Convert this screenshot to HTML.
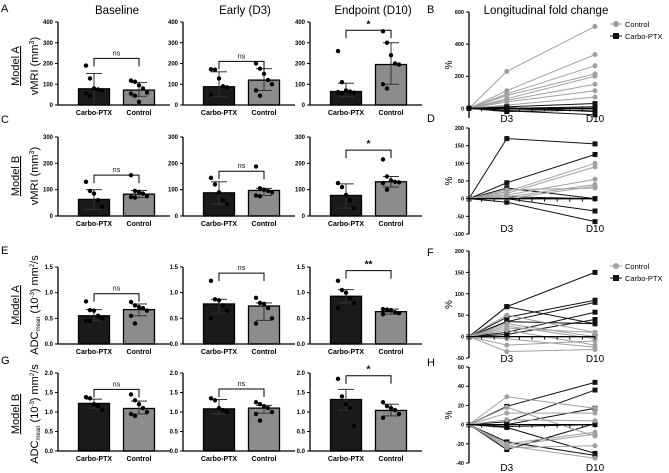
<!DOCTYPE html>
<html><head><meta charset="utf-8"><style>
html,body{margin:0;padding:0;background:#fff}
svg{display:block;font-family:"Liberation Sans",Arial,sans-serif}
</style></head><body>
<svg id="fig" width="669" height="473" viewBox="0 0 669 473" xmlns="http://www.w3.org/2000/svg">
<g font-size="11" fill="#000">
<text x="1" y="12">A</text>
<text x="1" y="123">C</text>
<text x="1" y="254">E</text>
<text x="1" y="364">G</text>
<text x="427" y="13">B</text>
<text x="427" y="122">D</text>
<text x="427" y="256">F</text>
<text x="427" y="366">H</text>
</g>
<g font-size="11.5" text-anchor="middle">
<text x="117" y="14">Baseline</text>
<text x="245" y="14">Early (D3)</text>
<text x="373" y="14">Endpoint (D10)</text>
<text x="546" y="14">Longitudinal fold change</text>
</g>
<g font-size="11" text-anchor="middle">
<text transform="translate(19,66) rotate(-90)" text-decoration="underline">Model A</text>
<text transform="translate(38,66) rotate(-90)">vMRI (mm<tspan font-size="7" dy="-4">3</tspan><tspan dy="4">)</tspan></text>
<text transform="translate(19,176) rotate(-90)" text-decoration="underline">Model B</text>
<text transform="translate(38,176) rotate(-90)">vMRI (mm<tspan font-size="7" dy="-4">3</tspan><tspan dy="4">)</tspan></text>
<text transform="translate(19,305) rotate(-90)" text-decoration="underline">Model A</text>
<text transform="translate(38,305) rotate(-90)">ADC<tspan font-size="6" dy="2">mean</tspan><tspan dy="-2"> (10</tspan><tspan font-size="6" dy="-4">-3</tspan><tspan dy="4">) mm</tspan><tspan font-size="6" dy="-4">2</tspan><tspan dy="4">/s</tspan></text>
<text transform="translate(19,414) rotate(-90)" text-decoration="underline">Model B</text>
<text transform="translate(38,414) rotate(-90)">ADC<tspan font-size="6" dy="2">mean</tspan><tspan dy="-2"> (10</tspan><tspan font-size="6" dy="-4">-3</tspan><tspan dy="4">) mm</tspan><tspan font-size="6" dy="-4">2</tspan><tspan dy="4">/s</tspan></text>
</g>
<g id="plots"></g>
</svg>
<script>
// ---- Bar chart data (per panel: mean, SD top, SD bottom, points) ----
const groups = ["Carbo-PTX", "Control"];
const barMeans = [[78,72],[88,120],[65,195],[63,83],[88,97],[78,130],[0.55,0.67],[0.78,0.74],[0.93,0.63],[1.22,1.09],[1.08,1.10],[1.32,1.04]];
const barUpper = [[152,108],[160,175],[105,300],[100,97],[130,105],[122,150],[0.67,0.78],[0.87,0.80],[1.06,0.68],[1.33,1.28],[1.32,1.17],[1.58,1.20]];
const barLower = [[0,42],[40,70],[40,100],[25,70],[45,78],[30,110],[0.45,0.55],[0.60,0.46],[0.80,0.58],[1.10,0.95],[0.95,0.97],[1.05,0.90]];
const ptsCarbo = [[190,128,80,75,70,55,45],[172,170,128,90,85,50],[260,110,70,65,60,62,58],[130,95,85,60,35],[145,120,90,60,45],[125,110,80,60,30],[0.83,0.66,0.65,0.55,0.5,0.45,0.45],[1.23,0.87,0.85,0.75,0.65,0.5],[1.23,1.05,1.0,0.9,0.8,0.7],[1.38,1.35,1.2,1.15,1.05],[1.35,1.3,1.1,1.05,1.0],[1.85,1.4,1.2,1.1,0.65]];
const ptsControl = [[118,112,95,80,60,55,45,15],[200,175,150,120,100,70,45],[355,300,240,200,195,100,80],[155,95,92,85,75,72,70],[188,105,100,95,90,78,75],[215,150,135,130,128,125,100],[0.82,0.75,0.72,0.7,0.65,0.55,0.4],[0.9,0.8,0.78,0.7,0.5,0.4],[0.68,0.67,0.66,0.62,0.6,0.58],[1.45,1.3,1.2,1.1,1.0,0.95,0.9],[1.25,1.2,1.15,1.1,1.0,0.95,0.78],[1.25,1.15,1.1,1.05,0.95,0.85]];
const sigLabels = ["ns","ns","*","ns","ns","*","ns","ns","**","ns","ns","*"];
const sigLevels = [225,210,360,155,170,250,0.98,1.38,1.43,1.58,1.59,1.93];
const barTicks = [[0,100,200,300,400],[0,100,200,300,400],[0,100,200,300,400],[0,100,200,300],[0,100,200,300],[0,100,200,300],["0.0","0.5","1.0","1.5"],["0.0","0.5","1.0","1.5"],["0.0","0.5","1.0","1.5"],["0.0","0.5","1.0","1.5","2.0"],["0.0","0.5","1.0","1.5","2.0"],["0.0","0.5","1.0","1.5","2.0"]];

// ---- Longitudinal line data: [D3, D10] per subject, baseline = 0 ----
const days = [0, 3, 10];
const lineControl = [
 [[230,510],[110,335],[90,265],[80,215],[60,200],[50,150],[40,110],[20,70]],
 [[20,100],[15,90],[10,55],[5,40],[25,30],[0,35]],
 [[50,10],[30,0],[25,-5],[15,-20],[-5,-25],[-20,-10],[-35,-30],[20,10]],
 [[29,17],[12,12],[5,4],[-20,-8],[-22,-10],[-24,-22],[-22,-35],[18,-12]]];
const lineCarbo = [
 [[10,30],[0,10],[-10,0],[-20,-10],[5,-20],[-15,-40],[0,0]],
 [[170,155],[45,125],[30,0],[-10,-65],[0,-35],[5,0]],
 [[70,150],[70,30],[45,85],[35,80],[10,57],[5,40],[35,30],[0,0]],
 [[19,44],[3,36],[0,17],[-2,0],[-26,1],[-18,-32],[-3,-30]]];
const lineTicks = [[0,200,400,600],[-100,-50,0,50,100,150,200],[-50,0,50,100,150,200],[-40,-20,0,20,40,60]];
const lineAxisMin = [-60,-100,-50,-40];

const NS="http://www.w3.org/2000/svg";
const root=document.getElementById('plots');
function mk(tag,attrs,parent){const e=document.createElementNS(NS,tag);for(const k in attrs)e.setAttribute(k,attrs[k]);(parent||root).appendChild(e);return e;}

const colX=[58,183,310];
const rowY=[[22,105],[137,216],[267,344],[373,451]];
function barPanel(i){
  const col=i%3,row=Math.floor(i/3);
  const x0=colX[col],yT=rowY[row][0],yB=rowY[row][1];
  const ticks=barTicks[i];const tmax=parseFloat(ticks[ticks.length-1]);
  const y=v=>yB-(v/tmax)*(yB-yT);
  const g=mk('g',{});
  
  
  const cx=[x0+36,x0+81];const bw=31;
  const fills=['#1a1a1a','#8c8c8c'];
  const pts=[ptsCarbo[i],ptsControl[i]];
  for(let k=0;k<2;k++){
    const m=barMeans[i][k];
    const r=mk('rect',{x:cx[k]-bw/2,y:y(m),width:bw,height:yB-y(m),fill:fills[k],stroke:'#000','stroke-width':1.3},g);
    
    
    const eb=mk('g',{stroke:'#333','stroke-width':1},g);
    
    
    mk('line',{x1:cx[k],x2:cx[k],y1:y(barUpper[i][k]),y2:y(barLower[i][k])},eb);
    mk('line',{x1:cx[k]-8,x2:cx[k]+8,y1:y(barUpper[i][k]),y2:y(barUpper[i][k])},eb);
    mk('line',{x1:cx[k]-8,x2:cx[k]+8,y1:y(barLower[i][k]),y2:y(barLower[i][k])},eb);
    pts[k].forEach((v,j)=>{
      const off=((j%5)-2)*4;
      const c=mk('circle',{cx:cx[k]+off,cy:y(v),r:2.2,fill:'#000'},g);
      
      
    });
    const t=mk('text',{x:cx[k],y:yB+10,'font-size':7,'font-weight':'bold','text-anchor':'middle'},g);
    t.textContent=groups[k];
    
    
  }
  const ax=mk('path',{d:`M${x0},${yT} V${yB} H${x0+112}`,stroke:'#000','stroke-width':1.3,fill:'none'},g);
  
  
  ticks.forEach(tv=>{
    const v=parseFloat(tv);
    mk('line',{x1:x0-3,x2:x0,y1:y(v),y2:y(v),stroke:'#000','stroke-width':1},g);
    const t=mk('text',{x:x0-5,y:y(v)+2,'font-size':6,'font-weight':'bold','text-anchor':'end'},g);
    t.textContent=tv;
    
    
  });
  const sy=y(sigLevels[i]);
  const br=mk('path',{d:`M${cx[0]},${sy+8} V${sy} H${cx[1]} V${sy+8}`,stroke:'#000','stroke-width':1,fill:'none'},g);
  
  
  const st=mk('text',{x:(cx[0]+cx[1])/2,y:sy-3,'font-size':sigLabels[i]==='ns'?7:10,'text-anchor':'middle','font-weight':sigLabels[i]==='ns'?'normal':'bold'},g);
  st.textContent=sigLabels[i];
  
  
}
for(let i=0;i<12;i++)barPanel(i);

// line panels
const lineY=[[12,118],[128,234],[251,358],[367,463]];
const labelY=[122,232,362,471];
const lx0=469;
const xd=d=>lx0+d*12.6;
function linePanel(p){
  const ticks=lineTicks[p];const tmin=lineAxisMin[p],tmax=ticks[ticks.length-1];
  const yT=lineY[p][0],yB=lineY[p][1];
  const y=v=>yB-(v-tmin)/(tmax-tmin)*(yB-yT);
  const g=mk('g',{});
  
  
  const drawSeries=(arr,color,sq,name)=>{
    arr.forEach(s=>{
      const vals=[0,s[0],s[1]];
      const pl=mk('polyline',{points:vals.map((v,j)=>xd(days[j])+','+y(v)).join(' '),fill:'none',stroke:color,'stroke-width':1},g);
      
      
      vals.forEach((v,j)=>{
        let m;
        if(sq)m=mk('rect',{x:xd(days[j])-2.5,y:y(v)-2.5,width:5,height:5,fill:color},g);
        else m=mk('circle',{cx:xd(days[j]),cy:y(v),r:2.5,fill:color},g);
        
        
      });
    });
  };
  if(p===0){drawSeries(lineControl[p],'#a0a0a0',false,'control');drawSeries(lineCarbo[p],'#111',true,'carbo');}
  else {drawSeries(lineCarbo[p],'#111',true,'carbo');drawSeries(lineControl[p],'#a0a0a0',false,'control');}
  const ax=mk('line',{x1:lx0,x2:lx0,y1:yT,y2:yB,stroke:'#000','stroke-width':1.3},g);
  
  
  const xa=mk('line',{x1:lx0,x2:xd(10),y1:y(0),y2:y(0),stroke:'#000','stroke-width':1.3},g);
  
  
  for(let d=1;d<=10;d++)mk('line',{x1:xd(d),x2:xd(d),y1:y(0),y2:y(0)+3,stroke:'#000','stroke-width':1},g);
  ticks.forEach(v=>{
    mk('line',{x1:lx0-3,x2:lx0,y1:y(v),y2:y(v),stroke:'#000','stroke-width':1},g);
    const t=mk('text',{x:lx0-5,y:y(v)+2,'font-size':5.5,'font-weight':'bold','text-anchor':'end'},g);
    t.textContent=v;
    
    
  });
  [['D3',3],['D10',10]].forEach(([lab,d])=>{
    const t=mk('text',{x:xd(d),y:labelY[p],'font-size':10,'text-anchor':'middle'},g);
    t.textContent=lab;
    
    
  });
  const yl=mk('text',{transform:`translate(452,${(yT+yB)/2}) rotate(-90)`,'font-size':10,'text-anchor':'middle'},g);
  yl.textContent='%';
  
  
}
for(let p=0;p<4;p++)linePanel(p);

function legend(yy){
  const g=mk('g',{});
  
  
  const e1=mk('g',{},g);
  
  
  mk('line',{x1:610,x2:622,y1:yy,y2:yy,stroke:'#a0a0a0','stroke-width':1},e1);
  mk('circle',{cx:616,cy:yy,r:3,fill:'#a0a0a0'},e1);
  const t1=mk('text',{x:625,y:yy+3,'font-size':7.5},e1);t1.textContent='Control';
  const e2=mk('g',{},g);
  
  
  mk('line',{x1:610,x2:622,y1:yy+12,y2:yy+12,stroke:'#111','stroke-width':1},e2);
  mk('rect',{x:613,y:yy+9,width:6,height:6,fill:'#111'},e2);
  const t2=mk('text',{x:625,y:yy+15,'font-size':7.5},e2);t2.textContent='Carbo-PTX';
}
legend(24);legend(266);
</script>
</body></html>
